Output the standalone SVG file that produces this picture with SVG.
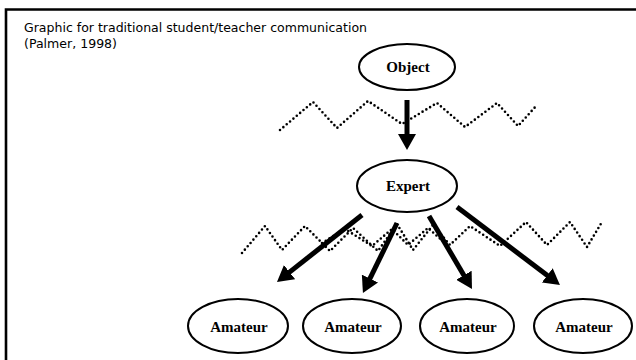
<svg xmlns="http://www.w3.org/2000/svg" width="636" height="360" viewBox="0 0 636 360">
  <style>
    .frame { fill: none; stroke: #000; stroke-width: 2.6; }
    .caption { font-family: "DejaVu Sans", "Liberation Sans", sans-serif; font-size: 12px; fill: #000; }
    .node ellipse { fill: #fff; stroke: #000; stroke-width: 2; }
    .label { font-family: "Liberation Serif", "DejaVu Serif", serif; font-weight: bold; font-size: 15px; fill: #000; text-anchor: middle; }
    .noise { fill: none; stroke: #000; stroke-width: 2.6; stroke-linecap: round; stroke-linejoin: round; stroke-dasharray: 0 4.4; }
    .arrow { fill: none; stroke: #000; stroke-width: 5; marker-end: url(#head); }
  </style>
  <defs>
    <marker id="head" viewBox="0 0 16 18" markerUnits="userSpaceOnUse" markerWidth="16" markerHeight="18" refX="4" refY="9" orient="auto">
      <path d="M0,0 L16,9 L0,18 z" fill="#000"/>
    </marker>
  </defs>

  <rect width="636" height="360" fill="#fff"/>

  <!-- slide frame, open on the right and bottom -->
  <path class="frame" d="M640,9.5 H6 V364"/>

  <text class="caption" x="24" y="32" textLength="343" lengthAdjust="spacingAndGlyphs">Graphic for traditional student/teacher communication</text>
  <text class="caption" x="24" y="48" textLength="93" lengthAdjust="spacingAndGlyphs">(Palmer, 1998)</text>

  <!-- dotted "noise" lines -->
  <g id="noise">
    <polyline class="noise" points="280,130 313,102 337,128 368,101 402,124 437,103 465,127 497,103 518,126 537,105"/>
    <polyline class="noise" points="242,253 265,226 282,250 305,226 330,251 353,228 378,251 397,224 413,250 433,225 450,245 470,226 500,246 526,222 547,245 570,222 587,247 602,222"/>
    <polyline class="noise" points="322,243 345,229 372,246 392,229 408,245 428,228 445,243"/>
  </g>

  <!-- connectors -->
  <g id="connectors">
    <line class="arrow" x1="407" y1="100" x2="407" y2="138"/>
    <line class="arrow" x1="362" y1="215" x2="286.4" y2="274.6"/>
    <line class="arrow" x1="397" y1="223" x2="368.2" y2="282.2"/>
    <line class="arrow" x1="429" y1="216" x2="465.9" y2="278.7"/>
    <line class="arrow" x1="457" y1="207" x2="550.4" y2="277.8"/>
  </g>

  <g id="object" class="node">
    <ellipse cx="407" cy="67" rx="48" ry="23"/>
    <text class="label" x="408" y="72">Object</text>
  </g>
  <g id="expert" class="node">
    <ellipse cx="407" cy="186" rx="50" ry="26"/>
    <text class="label" x="408" y="191">Expert</text>
  </g>
  <g id="amateur1" class="node">
    <ellipse cx="238" cy="326" rx="50" ry="27"/>
    <text class="label" x="239" y="332">Amateur</text>
  </g>
  <g id="amateur2" class="node">
    <ellipse cx="352" cy="326" rx="49" ry="27"/>
    <text class="label" x="353" y="332">Amateur</text>
  </g>
  <g id="amateur3" class="node">
    <ellipse cx="467" cy="326" rx="47" ry="27"/>
    <text class="label" x="468" y="332">Amateur</text>
  </g>
  <g id="amateur4" class="node">
    <ellipse cx="583" cy="326" rx="49" ry="27"/>
    <text class="label" x="584" y="332">Amateur</text>
  </g>
</svg>
